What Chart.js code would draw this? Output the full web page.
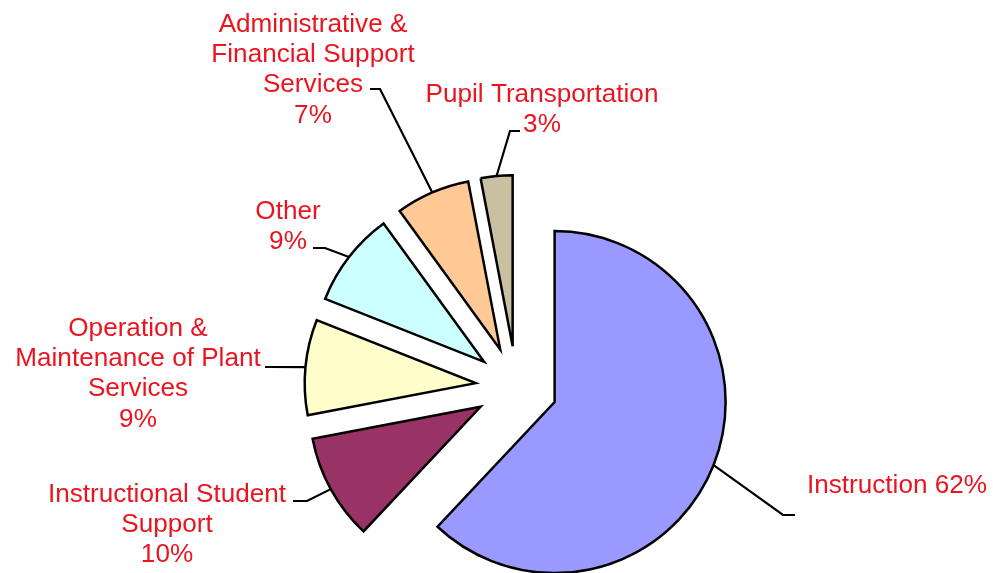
<!DOCTYPE html>
<html lang="en">
  <head>
    <meta charset="UTF-8" />
    <title>Expenditures by function</title>
    <script src="https://cdn.jsdelivr.net/npm/chart.js"></script>
    <style>
      body { margin: 0; background: #fff; }
    </style>
  </head>
  <body>
    <canvas id="chart" width="993" height="573"></canvas>

    <script>
      // data
      const CATEGORIES = [
        "Instruction",
        "Instructional Student Support",
        "Operation & Maintenance of Plant Services",
        "Other",
        "Administrative & Financial Support Services",
        "Pupil Transportation",
      ];
      const VALUES = [62, 10, 9, 9, 7, 3];

      const COLORS = ["#9999ff", "#993366", "#ffffcc", "#ccffff", "#ffc996", "#c8c0a0"];

      // how each label is wrapped and where it sits (canvas px)
      const LABEL_LINES = [
        ["Instruction"],
        ["Instructional Student", "Support"],
        ["Operation &", "Maintenance of Plant", "Services"],
        ["Other"],
        ["Administrative &", "Financial Support", "Services"],
        ["Pupil Transportation"],
      ];
      const PCT_INLINE = [true, false, false, false, false, false];
      const LABEL_POS = [
        { x: 897, y: 493, elbow: [783, 515], end: [795, 515] },
        { x: 167, y: 502, elbow: [307, 501], end: [293, 501] },
        { x: 138, y: 336, elbow: [270, 367], end: [265, 367] },
        { x: 288, y: 219, elbow: [325, 248], end: [313, 248] },
        { x: 313, y: 32, elbow: [380, 89], end: [370, 89] },
        { x: 542, y: 102, elbow: [510, 131], end: [520, 131] },
      ];

      const EXPLODE = 41;
      const LINE_H = 30.2;
      const FONT = '25px "Liberation Sans", Arial, sans-serif';
      const TEXT_SX = 1.045; // labels in the original are a touch wide

      const explodePlugin = {
        id: "explode",
        beforeDatasetDraw(chart, args) {
          const ctx = chart.ctx;
          args.meta.data.forEach((arc) => {
            const mid = (arc.startAngle + arc.endAngle) / 2;
            ctx.save();
            ctx.translate(Math.cos(mid) * EXPLODE, Math.sin(mid) * EXPLODE);
            arc.draw(ctx);
            ctx.restore();
          });
          return false;
        },
      };

      const labelPlugin = {
        id: "sliceLabels",
        afterDatasetsDraw(chart) {
          const ctx = chart.ctx;
          const arcs = chart.getDatasetMeta(0).data;
          const total = VALUES.reduce((a, b) => a + b, 0);
          arcs.forEach((arc, i) => {
            const mid = (arc.startAngle + arc.endAngle) / 2;
            const r = arc.outerRadius;
            const sx = arc.x + Math.cos(mid) * (EXPLODE + r);
            const sy = arc.y + Math.sin(mid) * (EXPLODE + r);
            const pos = LABEL_POS[i];

            ctx.save();
            ctx.strokeStyle = "#000";
            ctx.lineWidth = 2.2;
            ctx.beginPath();
            ctx.moveTo(sx, sy);
            ctx.lineTo(pos.elbow[0], pos.elbow[1]);
            ctx.lineTo(pos.end[0], pos.end[1]);
            ctx.stroke();

            const pct = Math.round((VALUES[i] / total) * 100) + "%";
            const lines = LABEL_LINES[i].slice();
            if (PCT_INLINE[i]) lines[lines.length - 1] += " " + pct;
            else lines.push(pct);

            ctx.font = FONT;
            ctx.fillStyle = "#ea1520";
            ctx.textAlign = "center";
            ctx.textBaseline = "alphabetic";
            ctx.scale(TEXT_SX, 1);
            lines.forEach((line, k) => {
              ctx.fillText(line, pos.x / TEXT_SX, pos.y + k * LINE_H);
            });
            ctx.restore();
          });
        },
      };

      const ctx = document.getElementById("chart").getContext("2d");
      const chart = new Chart(ctx, {
        type: "pie",
        data: {
          labels: CATEGORIES,
          datasets: [
            {
              data: VALUES,
              backgroundColor: COLORS,
              borderColor: "#000",
              borderWidth: 2.5,
              borderJoinStyle: "miter",
            },
          ],
        },
        options: {
          responsive: false,
          animation: false,
          radius: 171,
          layout: { padding: { left: 40, right: 0, top: 201, bottom: 0 } },
          plugins: {
            legend: { display: false },
            tooltip: { enabled: false },
          },
        },
        plugins: [explodePlugin, labelPlugin],
      });
    </script>
  </body>
</html>
